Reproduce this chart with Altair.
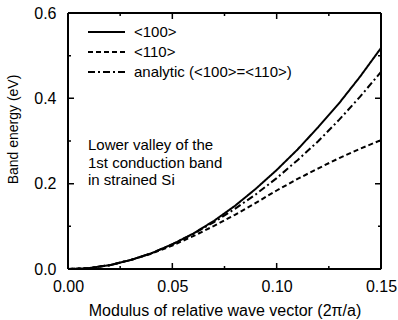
import altair as alt
import pandas as pd

k = [0.0, 0.01, 0.02, 0.03, 0.04, 0.05, 0.06, 0.07, 0.08, 0.09, 0.10, 0.11, 0.12, 0.13, 0.14, 0.15]
e100 = [0.0, 0.002, 0.009, 0.021, 0.037, 0.058, 0.083, 0.113, 0.148, 0.188, 0.232, 0.280, 0.333, 0.389, 0.451, 0.518]
e110 = [0.0, 0.002, 0.009, 0.021, 0.036, 0.055, 0.077, 0.101, 0.127, 0.155, 0.184, 0.211, 0.236, 0.260, 0.282, 0.302]
eana = [0.0, 0.002, 0.009, 0.021, 0.037, 0.058, 0.082, 0.110, 0.141, 0.175, 0.213, 0.255, 0.300, 0.350, 0.404, 0.462]
series = ["<100>", "<110>", "analytic (<100>=<110>)"]
note_lines = ["Lower valley of the", "1st conduction band", "in strained Si"]

x_major = [0.0, 0.05, 0.10, 0.15]
x_minor = [0.025, 0.075, 0.125]
y_major = [0.0, 0.2, 0.4, 0.6]
y_minor = [0.1, 0.3, 0.5]

W, H = 313, 256
FONT = "Liberation Sans"

rows = []
for name, vals in zip(series, [e100, e110, eana]):
    for kk, v in zip(k, vals):
        rows.append({"k": kk, "E": v, "s": name})
df = pd.DataFrame(rows)

xs = alt.Scale(domain=[0, 0.15], nice=False, zero=False)
ys = alt.Scale(domain=[0, 0.6], nice=False)
dash = alt.Scale(domain=series, range=[[1, 0], [5, 3], [7, 3, 2, 3]])
solid = alt.StrokeDash("s:N", scale=dash, legend=None)

lines = alt.Chart(df).mark_line(color="black", strokeWidth=2).encode(
    x=alt.X("k:Q", scale=xs, axis=alt.Axis(
        title="Modulus of relative wave vector (2π/a)", values=x_major, format=".2f",
        ticks=False, domain=False, grid=False, labelFlush=False, labelFont=FONT,
        labelFontSize=16, labelColor="black", labelPadding=9, titleFont=FONT,
        titleFontSize=16, titleFontWeight="normal", titleColor="black", titlePadding=8)),
    y=alt.Y("E:Q", scale=ys, axis=alt.Axis(
        title="Band energy (eV)", values=y_major, format=".1f",
        ticks=False, domain=False, grid=False, labelFlush=False, labelFont=FONT,
        labelFontSize=16, labelColor="black", labelPadding=12, titleFont=FONT,
        titleFontSize=14, titleFontWeight="normal", titleColor="black",
        titleX=-55, titleY=116, titleAlign="center", titleBaseline="middle", titleAngle=270)),
    strokeDash=solid,
    order="k:Q",
)

# frame
sides = pd.DataFrame({"s": ["<100>"]})
def side(x1, x2, y1, y2):
    return alt.Chart(sides).mark_rule(color="black", strokeWidth=2).encode(
        x=alt.value(x1), x2=alt.value(x2), y=alt.value(y1), y2=alt.value(y2),
        strokeDash=solid)
frame = [side(0, W, 0, 0), side(0, W, H, H), side(0, 0, 0, H), side(W, W, 0, H)]

# legend drawn by hand
legend_layers = []
for i, name in enumerate(series):
    ld = pd.DataFrame({"s": [name]})
    yy = 19 + 20 * i
    legend_layers.append(alt.Chart(ld).mark_rule(color="black", strokeWidth=2).encode(
        x=alt.value(20), x2=alt.value(57), y=alt.value(yy), strokeDash=solid))
    legend_layers.append(alt.Chart(ld).mark_text(
        align="left", baseline="middle", font=FONT, fontSize=15, color="black").encode(
        text="s:N", x=alt.value(66), y=alt.value(yy)))

# inward ticks on all four sides
xM = pd.DataFrame({"v": x_major, "s": "<100>"}); xm = pd.DataFrame({"v": x_minor, "s": "<100>"})
yM = pd.DataFrame({"v": y_major, "s": "<100>"}); ym = pd.DataFrame({"v": y_minor, "s": "<100>"})

def xticks(lo, hi, data):
    return alt.Chart(data).mark_rule(color="black", strokeWidth=1.5).encode(
        x=alt.X("v:Q", scale=xs), y=alt.value(lo), y2=alt.value(hi), strokeDash=solid)

def yticks(lo, hi, data):
    return alt.Chart(data).mark_rule(color="black", strokeWidth=1.5).encode(
        y=alt.Y("v:Q", scale=ys), x=alt.value(lo), x2=alt.value(hi), strokeDash=solid)

ticks = [
    xticks(H, H - 6, xM), xticks(H, H - 3, xm), xticks(0, 6, xM), xticks(0, 3, xm),
    yticks(0, 6, yM), yticks(0, 3, ym), yticks(W, W - 6, yM), yticks(W, W - 3, ym),
]

note = alt.Chart(pd.DataFrame({"t": [note_lines]})).mark_text(
    align="left", baseline="middle", font=FONT, fontSize=15, color="black", lineHeight=17.5
).encode(text="t", x=alt.value(20), y=alt.value(132))

chart = alt.layer(lines, note, *legend_layers, *frame, *ticks).properties(
    width=W, height=H,
    background="white",
    autosize=alt.AutoSizeParams(type="none"),
    padding={"left": 68, "top": 13, "right": 17, "bottom": 51},
)

chart.save("out.html", embed_options={"renderer": "svg", "actions": False})
